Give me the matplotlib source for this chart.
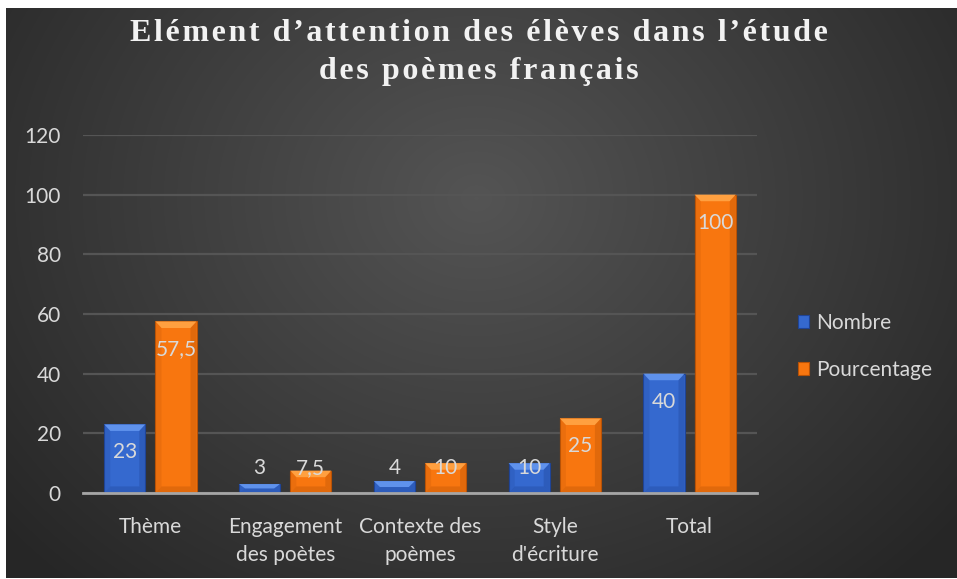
import matplotlib.pyplot as plt
import numpy as np
from matplotlib.patches import Polygon

categories = ["Thème", "Engagement\ndes poètes", "Contexte des\npoèmes", "Style\nd'écriture", "Total"]
nombre = [23, 3, 4, 10, 40]
pourcentage = [57.5, 7.5, 10, 25, 100]
nombre_labels = ["23", "3", "4", "10", "40"]
pourcentage_labels = ["57,5", "7,5", "10", "25", "100"]

plt.rcParams['font.family'] = ['Lato', 'DejaVu Sans']

fig = plt.figure(figsize=(9.57, 5.79), dpi=100, facecolor='white')

# fond degrade radial
bg = fig.add_axes([6 / 957, 1 / 579, 951 / 957, 570 / 579])
bg.set_axis_off()
yy, xx = np.mgrid[0:570, 0:951]
d = np.sqrt(((xx - 470) / 620.0) ** 2 + ((yy - 190) / 520.0) ** 2)
d = np.clip(d, 0, 1)
val = 0.33 - 0.18 * d
img = np.dstack([val, val, val])
bg.imshow(img, aspect='auto', extent=[0, 1, 0, 1], origin='upper')
bg.set_xlim(0, 1)
bg.set_ylim(0, 1)

ax = fig.add_axes([83 / 957, 1 - 493 / 579, 674 / 957, 358 / 579])
ax.set_facecolor('none')

x = np.arange(len(categories))
w = 0.305
off = 0.19

def bevel_bars(vals, xpos, base, light, dark):
    bars = ax.bar(xpos, vals, w, color=base, edgecolor=dark, linewidth=0.8, zorder=3)
    for b in bars:
        x0 = b.get_x()
        x1 = x0 + b.get_width()
        h = b.get_height()
        bx = 0.045
        by = min(2.2, h / 2)
        ax.add_patch(Polygon([(x0, h), (x1, h), (x1 - bx, h - by), (x0 + bx, h - by)],
                             closed=True, facecolor=light, edgecolor='none', zorder=4))
        ax.add_patch(Polygon([(x0, 0), (x1, 0), (x1 - bx, by), (x0 + bx, by)],
                             closed=True, facecolor=dark, edgecolor='none', zorder=4, alpha=0.35))
        ax.add_patch(Polygon([(x0, 0), (x0, h), (x0 + bx, h - by), (x0 + bx, by)],
                             closed=True, facecolor=dark, edgecolor='none', zorder=4, alpha=0.2))
        ax.add_patch(Polygon([(x1, 0), (x1, h), (x1 - bx, h - by), (x1 - bx, by)],
                             closed=True, facecolor=dark, edgecolor='none', zorder=4, alpha=0.35))
    return bars

bars_n = bevel_bars(nombre, x - off, '#3569cf', '#5f92ec', '#1f4496')
bars_p = bevel_bars(pourcentage, x + off, '#f8760f', '#ffa040', '#b85206')

for bars, labels in [(bars_n, nombre_labels), (bars_p, pourcentage_labels)]:
    for b, lab in zip(bars, labels):
        h = b.get_height()
        ypos = max(h - 9.4, 8.4)
        ax.text(b.get_x() + b.get_width() / 2, ypos, lab, ha='center', va='center',
                color='#d9d9d9', fontsize=15, zorder=6)

ax.set_xlim(-0.5, len(categories) - 0.5)
ax.set_ylim(0, 120)
ax.set_yticks(np.arange(0, 121, 20))
ax.set_xticks(x)
ax.set_xticklabels(categories, color='#d9d9d9', fontsize=15, linespacing=1.5)
ax.tick_params(axis='y', colors='#d9d9d9', labelsize=15, length=0, pad=16)
ax.tick_params(axis='x', length=0, pad=17)
ax.yaxis.grid(True, color='#555555', linewidth=1.6, zorder=0)
ax.set_axisbelow(True)
for s in ['top', 'right', 'left']:
    ax.spines[s].set_visible(False)
ax.spines['bottom'].set_color('#a6a6a6')
ax.spines['bottom'].set_linewidth(2)
ax.spines['bottom'].set_zorder(5)

leg = ax.legend([bars_n, bars_p], ["Nombre", "Pourcentage"], loc='center left',
                bbox_to_anchor=(1.033, 0.41), frameon=False, labelspacing=1.3,
                handlelength=0.55, handleheight=0.55, handletextpad=0.3, fontsize=15)
for t in leg.get_texts():
    t.set_color('#d9d9d9')

sp = "\u200a"
line1 = sp.join("Elément d\u2019attention des élèves dans l\u2019étude")
line2 = sp.join("des poèmes français")
fig.text(0.5, 0.91, line1 + "\n" + line2,
         ha='center', va='center', color='#f2f2f2', fontsize=23, fontweight='bold',
         family=['Liberation Serif', 'DejaVu Serif'], linespacing=1.4)

fig.savefig('out.png', dpi=100, facecolor='white')
